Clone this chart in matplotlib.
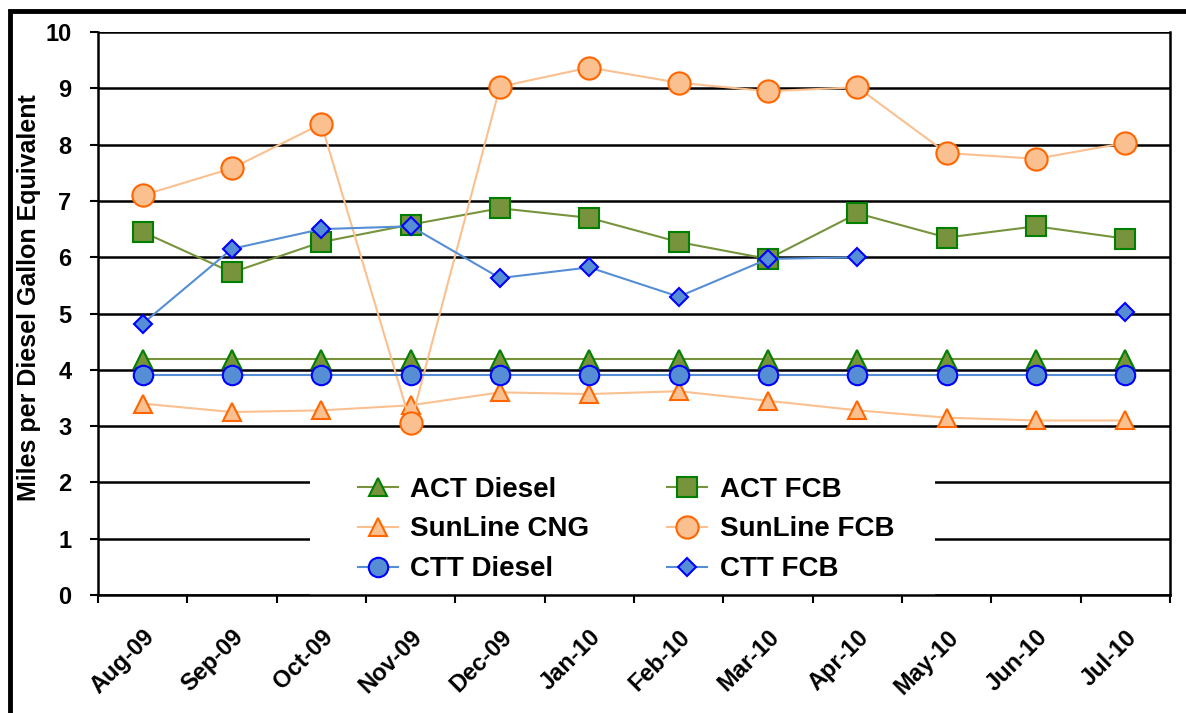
import numpy as np
import matplotlib
matplotlib.use("Agg")
import matplotlib.pyplot as plt
from matplotlib.lines import Line2D
from matplotlib.patches import Rectangle

plt.rcParams["font.family"] = ["Liberation Sans", "DejaVu Sans"]
plt.rcParams["font.weight"] = "bold"

months = ["Aug-09", "Sep-09", "Oct-09", "Nov-09", "Dec-09", "Jan-10",
          "Feb-10", "Mar-10", "Apr-10", "May-10", "Jun-10", "Jul-10"]

act_diesel = [4.2, 4.2, 4.2, 4.2, 4.2, 4.2, 4.2, 4.2, 4.2, 4.2, 4.2, 4.2]
act_fcb = [6.45, 5.73, 6.27, 6.58, 6.87, 6.70, 6.27, 5.97, 6.78, 6.35, 6.55, 6.33]
sunline_cng = [3.40, 3.25, 3.28, 3.37, 3.60, 3.57, 3.62, 3.45, 3.28, 3.15, 3.10, 3.10]
sunline_fcb = [7.10, 7.58, 8.37, 3.05, 9.03, 9.37, 9.10, 8.95, 9.02, 7.85, 7.75, 8.03]
ctt_diesel = [3.9, 3.9, 3.9, 3.9, 3.9, 3.9, 3.9, 3.9, 3.9, 3.9, 3.9, 3.9]
ctt_fcb = [4.82, 6.15, 6.50, 6.55, 5.63, 5.82, 5.30, 5.97, 6.00, np.nan, np.nan, 5.03]

fig = plt.figure(figsize=(11.86, 7.13), dpi=100)
ax = fig.add_axes([0.0826, 0.1655, 0.904, 0.7895])

x = np.arange(len(months))

# (label, data, line color, face, edge, marker, size)
series = [
    ("ACT Diesel", act_diesel, "#77933C", "#77933C", "#008000", "^", 13),
    ("ACT FCB", act_fcb, "#77933C", "#77933C", "#008000", "s", 14),
    ("SunLine CNG", sunline_cng, "#FAC090", "#FAC090", "#FF6600", "^", 13),
    ("SunLine FCB", sunline_fcb, "#FAC090", "#FAC090", "#FF6600", "o", 16),
    ("CTT Diesel", ctt_diesel, "#558ED5", "#558ED5", "#0000FF", "o", 14),
    ("CTT FCB", ctt_fcb, "#558ED5", "#558ED5", "#0000FF", "D", 9),
]

handles = {}
for i, (lab, vals, lc, fc, ec, mk, ms) in enumerate(series):
    h, = ax.plot(x, vals, color=lc, lw=1.5, marker=mk, ms=ms, mfc=fc, mec=ec,
                 mew=1.5, label=lab, zorder=3 + i)
    handles[lab] = h

ax.set_xlim(-0.5, len(months) - 0.5)
ax.set_ylim(0, 10)
ax.set_yticks(range(0, 11))
ax.set_xticks(x)
ax.set_xticklabels(months, rotation=45, ha="right", rotation_mode="anchor",
                   fontsize=17, fontweight="bold")
ax.set_xticks(np.arange(-0.5, len(months)), minor=True)
ax.tick_params(axis="x", which="major", length=0, pad=22)
ax.tick_params(axis="x", which="minor", length=6, width=1.5, direction="out")
ax.tick_params(axis="y", length=6, width=1.5, labelsize=17, pad=13)
for t in ax.get_yticklabels():
    t.set_fontweight("bold")

ax.grid(axis="y", color="black", lw=1.8, zorder=1)
ax.set_axisbelow(True)
for s in ["left", "right", "bottom"]:
    ax.spines[s].set_linewidth(1.8)
ax.spines["top"].set_visible(False)

ax.set_ylabel("Miles per Diesel Gallon Equivalent", fontsize=18,
              fontweight="bold")
ax.yaxis.set_label_coords(-0.053, 0.529)

# white area behind the legend, hiding the gridlines
ax.add_patch(Rectangle((0.198, 0.0), 0.583, 0.27, transform=ax.transAxes,
                       facecolor="white", edgecolor="none", zorder=1))

order = ["ACT Diesel", "SunLine CNG", "CTT Diesel",
         "ACT FCB", "SunLine FCB", "CTT FCB"]
leg = ax.legend([handles[k] for k in order], order, ncol=2,
                loc="lower center", bbox_to_anchor=(0.4925, -0.012),
                frameon=False, fontsize=20, handlelength=1.45,
                columnspacing=2.8, labelspacing=0.5, handletextpad=0.45,
                borderpad=0.2, numpoints=1)
for t in leg.get_texts():
    t.set_fontweight("bold")

# outer border (left and top)
fig.add_artist(Line2D([0.0085, 0.0085, 1.0], [0.0, 0.985, 0.985],
                      color="black", lw=3.5, transform=fig.transFigure,
                      solid_joinstyle="miter"))

fig.savefig("out.png", dpi=100)
